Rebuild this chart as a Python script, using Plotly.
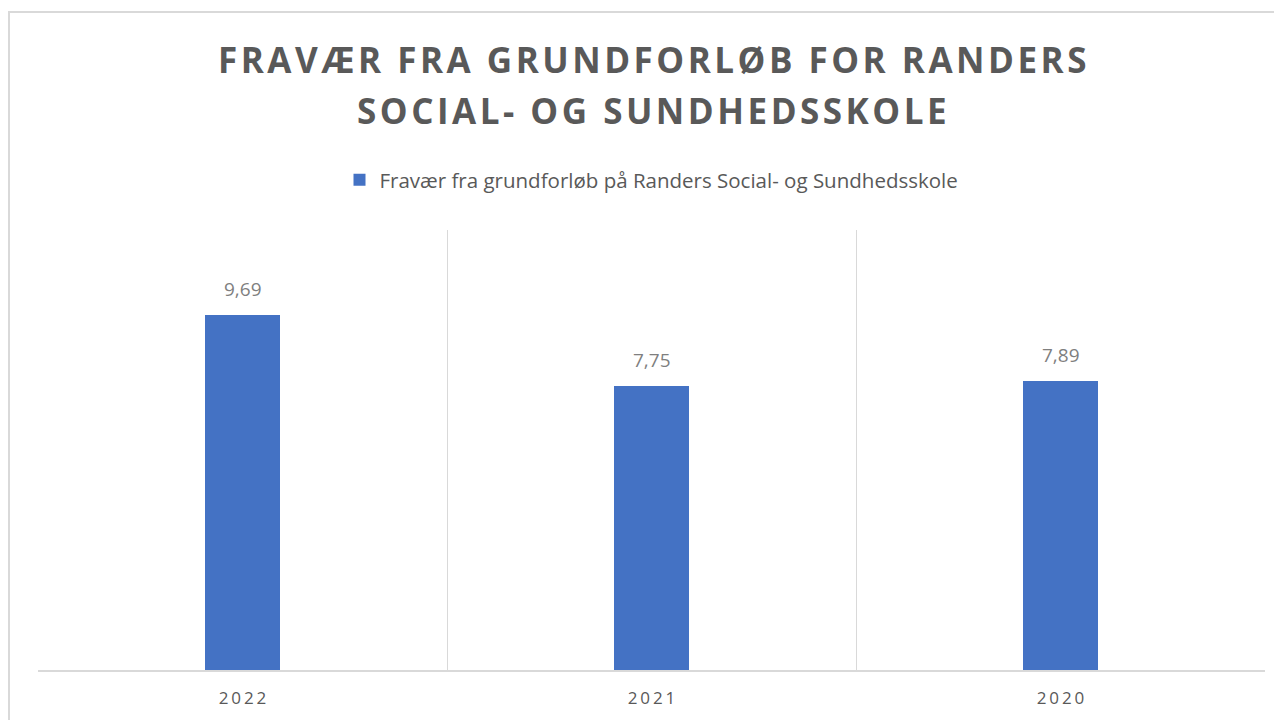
import plotly.graph_objects as go

categories = ["2022", "2021", "2020"]
values = [9.69, 7.75, 7.89]
series_name = "Fravær fra grundforløb på Randers Social- og Sundhedsskole"
title_lines = ["FRAVÆR FRA GRUNDFORLØB FOR RANDERS", "SOCIAL- OG SUNDHEDSSKOLE"]

# page offset (browser body margin) is 8px; plot area in page coords: x 38..1265, y 230..670
OFF = 8
PL, PR, PT, PB = 38, 1265, 230, 670
PH = PB - PT
PW = PR - PL


def spaced(s, sep):
    return sep.join(list(s))


tick_text = [spaced(c, "\u2009") for c in categories]

fig = go.Figure()
fig.add_trace(go.Bar(
    x=categories,
    y=values,
    name=series_name,
    marker=dict(color="#4472C4", line=dict(width=0)),
    width=0.184,
    showlegend=True,
    hoverinfo="x+y",
))

for i, v in enumerate(values):
    fig.add_annotation(
        x=i, y=v, xref="x", yref="y", showarrow=False,
        text=f"{v:.2f}".replace(".", ","), yanchor="bottom", yshift=11,
        font=dict(family="Open Sans", size=19, color="#7F7F7F"),
    )

fig.update_layout(
    width=1282, height=720,
    margin=dict(l=PL - OFF, r=1282 - (PR - OFF), t=PT - OFF, b=720 - (PB - OFF)),
    paper_bgcolor="white", plot_bgcolor="white",
    separators=",.",
    showlegend=True,
    legend=dict(
        orientation="h", x=0.5, xanchor="center", y=1 + (PT - 180) / PH, yanchor="middle",
        font=dict(family="Open Sans", size=20.5, color="#595959"),
        itemwidth=30,
    ),
    xaxis=dict(
        type="category",
        range=[-0.5, 2.5],
        tickmode="array", tickvals=categories, ticktext=tick_text,
        tickson="boundaries", ticks="", showgrid=True, gridcolor="#D9D9D9", gridwidth=1.3,
        showline=True, linecolor="#D9D9D9", linewidth=1.5,
        tickfont=dict(family="Open Sans", size=17, color="#595959"),
        ticklabelstandoff=12,
    ),
    yaxis=dict(range=[0, 12], showgrid=False, showticklabels=False, zeroline=False, showline=False),
    bargap=0,
)

title_centers = [60, 110]
for line, cy in zip(title_lines, title_centers):
    fig.add_annotation(
        xref="paper", yref="paper", x=0.5, y=(PB - cy) / PH,
        xanchor="center", yanchor="middle", showarrow=False,
        text="<b>" + spaced(line, "\u200a") + "</b>",
        font=dict(family="Open Sans", size=35, color="#595959"),
    )

# outer chart border
fig.add_shape(type="rect", xref="paper", yref="paper",
              x0=(9 - PL) / PW, x1=1.05, y0=-0.3, y1=(PB - 12) / PH,
              line=dict(color="#D9D9D9", width=2), fillcolor="rgba(0,0,0,0)", layer="below")

fig.write_html("out.html")
